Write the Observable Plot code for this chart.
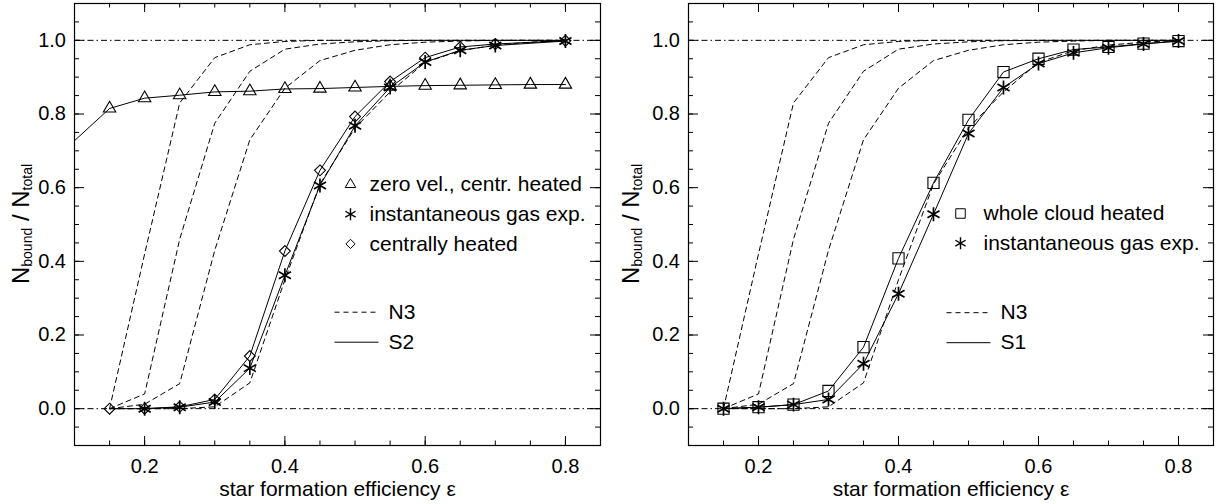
<!DOCTYPE html>
<html><head><meta charset="utf-8">
<script src="https://cdn.jsdelivr.net/npm/d3@7"></script>
<script src="https://cdn.jsdelivr.net/npm/@observablehq/plot@0.6"></script>
<style>
body{margin:0;background:#fff;}
#wrap{position:relative;width:1220px;height:504px;overflow:hidden;}
#wrap svg{position:absolute;top:0;}
</style></head><body><div id="wrap"></div>
<script>
// ---------- data ----------
const xTicks = [0.2, 0.4, 0.6, 0.8];
const yTicks = [0.0, 0.2, 0.4, 0.6, 0.8, 1.0];
const xMinor = [0.15, 0.2, 0.25, 0.3, 0.35, 0.4, 0.45, 0.5, 0.55, 0.6, 0.65, 0.7, 0.75, 0.8];
const yMinor = [-0.05, 0.0, 0.05, 0.1, 0.15, 0.2, 0.25, 0.3, 0.35, 0.4, 0.45, 0.5, 0.55, 0.6, 0.65, 0.7, 0.75, 0.8, 0.85, 0.9, 0.95, 1.0, 1.05];
const refLines = [0, 1];

// N3 reference curves (dashed), same in both panels
const epsN3 = [0.15, 0.2, 0.25, 0.3, 0.35, 0.4, 0.45, 0.5, 0.55, 0.6, 0.65, 0.7, 0.75, 0.8];
const n3a = [0.0, 0.42, 0.83, 0.953, 0.988, 0.997, 1.0, 1.0, 1.0, 1.0, 1.0, 1.0, 1.0, 1.0];
const n3b = [0.0, 0.04, 0.46, 0.775, 0.916, 0.976, 0.99, 0.996, 0.999, 1.0, 1.0, 1.0, 1.0, 1.0];
const n3c = [0.0, 0.012, 0.068, 0.43, 0.73, 0.87, 0.945, 0.973, 0.988, 0.995, 0.998, 1.0, 1.0, 1.0];
const n3d = [0.0, 0.0, 0.0, 0.005, 0.07, 0.35, 0.61, 0.762, 0.86, 0.94, 0.972, 0.987, 0.995, 1.0];

// left panel (S2)
const epsZeroVel = [0.05, 0.15, 0.2, 0.25, 0.3, 0.35, 0.4, 0.45, 0.5, 0.55, 0.6, 0.65, 0.7, 0.75, 0.8];
const zeroVel = [0.64, 0.815, 0.843, 0.851, 0.86, 0.862, 0.868, 0.869, 0.872, 0.875, 0.877, 0.878, 0.879, 0.88, 0.88];
const epsInstS2 = [0.2, 0.25, 0.3, 0.35, 0.4, 0.45, 0.5, 0.55, 0.6, 0.65, 0.7, 0.8];
const instS2 = [0.0, 0.004, 0.018, 0.11, 0.362, 0.606, 0.768, 0.872, 0.941, 0.973, 0.986, 0.998];
const epsCentral = [0.15, 0.2, 0.25, 0.3, 0.35, 0.4, 0.45, 0.5, 0.55, 0.6, 0.65, 0.7, 0.8];
const central = [0.0, 0.0, 0.005, 0.025, 0.143, 0.428, 0.647, 0.793, 0.888, 0.953, 0.982, 0.99, 0.999];

// right panel (S1)
const epsS1 = [0.15, 0.2, 0.25, 0.3, 0.35, 0.4, 0.45, 0.5, 0.55, 0.6, 0.65, 0.7, 0.75, 0.8];
const wholeCloud = [0.0, 0.004, 0.011, 0.048, 0.167, 0.408, 0.613, 0.784, 0.914, 0.95, 0.975, 0.982, 0.991, 0.998];
const instS1 = [0.0, 0.004, 0.011, 0.025, 0.122, 0.312, 0.528, 0.747, 0.872, 0.937, 0.966, 0.98, 0.99, 0.998];

// ---------- helpers ----------
const zip = (xs, ys, name) => xs.map((x, i) => ({x, y: ys[i], name}));
const n3Rows = [
  ...zip(epsN3, n3a, "a"), ...zip(epsN3, n3b, "b"),
  ...zip(epsN3, n3c, "c"), ...zip(epsN3, n3d, "d")
];
const FONT = "'Liberation Sans', Arial, Helvetica, sans-serif";
const W = 610, H = 504, MT = 3, MB = 59;
const lineSym = (half) => ({draw(ctx) { ctx.moveTo(-half, 0); ctx.lineTo(half, 0); }});
const symSize = {triangle: 4.6, asterisk: 6.6, diamond2: 4.9, square: 6.3};

function panel({mL, mR, series, lineLabel, leg}) {
  const fw = W - mL - mR, fh = H - MT - MB;
  const marks = [
    Plot.ruleY(refLines, {y: d => d, stroke: "black", strokeWidth: 1, strokeDasharray: "6,3,1.5,3"}),
    Plot.line(n3Rows, {x: "x", y: "y", z: "name", stroke: "black", strokeWidth: 1, strokeDasharray: "5,4"})
  ];
  for (const s of series) {
    const rows = zip(s.xs, s.ys, s.name);
    marks.push(Plot.line(rows, {x: "x", y: "y", stroke: "black", strokeWidth: 1, clip: true}));
    marks.push(Plot.dot(rows, {x: "x", y: "y", symbol: s.symbol, r: symSize[s.symbol], stroke: "black", fill: "none", strokeWidth: s.symbol === "asterisk" ? 1.7 : 1.1, clip: true}));
  }
  // frame + ticks (inward, on all sides)
  marks.push(
    Plot.frame({stroke: "black", strokeWidth: 1.2}),
    Plot.tickX(xMinor, {x: d => d, stroke: "black", insetTop: fh - 4.5}),
    Plot.tickX(xTicks, {x: d => d, stroke: "black", insetTop: fh - 9}),
    Plot.tickX(xMinor, {x: d => d, stroke: "black", insetBottom: fh - 4.5}),
    Plot.tickX(xTicks, {x: d => d, stroke: "black", insetBottom: fh - 9}),
    Plot.tickY(yMinor, {y: d => d, stroke: "black", insetRight: fw - 5}),
    Plot.tickY(yTicks, {y: d => d, stroke: "black", insetRight: fw - 10}),
    Plot.tickY(yMinor, {y: d => d, stroke: "black", insetLeft: fw - 5}),
    Plot.tickY(yTicks, {y: d => d, stroke: "black", insetLeft: fw - 10}),
    Plot.axisX(xTicks, {tickSize: 0, tickPadding: 13, tickFormat: ".1f", label: null, fontSize: 20}),
    Plot.axisY(yTicks, {tickSize: 0, tickPadding: 8.5, tickFormat: ".1f", label: null, fontSize: 20}),
    Plot.text(["star formation efficiency ε"], {frameAnchor: "bottom", dy: 44, text: d => d, fontSize: 21, lineAnchor: "middle"})
  );
  // legend
  leg.items.forEach((it, i) => {
    const dy = leg.y0 + i * 29.7;
    marks.push(Plot.dot([0], {frameAnchor: "top-left", dx: leg.symX, dy, symbol: it.symbol, r: symSize[it.symbol] * 0.85, stroke: "black", fill: "none", strokeWidth: it.symbol === "asterisk" ? 1.4 : 1}));
    marks.push(Plot.text([it.label], {frameAnchor: "top-left", dx: leg.textX, dy, text: d => d, textAnchor: "start", lineAnchor: "middle", fontSize: 21}));
  });
  [["N3", "5,4"], [lineLabel, null]].forEach(([lab, dash], i) => {
    const dy = leg.lineY0 + i * 30;
    marks.push(Plot.dot([0], {frameAnchor: "top-left", dx: leg.lineX, dy, symbol: lineSym(22), stroke: "black", fill: "none", strokeWidth: 1, strokeDasharray: dash}));
    marks.push(Plot.text([lab], {frameAnchor: "top-left", dx: leg.lineTextX, dy, text: d => d, textAnchor: "start", lineAnchor: "middle", fontSize: 21}));
  });

  const svg = Plot.plot({
    width: W, height: H,
    marginTop: MT, marginBottom: MB, marginLeft: mL, marginRight: mR,
    x: {domain: [0.1, 0.85]},
    y: {domain: [-0.1, 1.1]},
    style: {fontFamily: FONT, fontSize: "20px", color: "black", background: "white", overflow: "visible"},
    marks
  });
  // y label with subscripts
  const t = d3.select(svg).append("text")
    .attr("transform", `translate(29,${MT + fh / 2}) rotate(-90)`)
    .attr("text-anchor", "middle")
    .attr("fill", "black")
    .style("font-family", FONT).style("font-size", "24px");
  t.append("tspan").text("N");
  t.append("tspan").attr("font-size", "14px").attr("dy", 3).text("bound");
  t.append("tspan").attr("dy", -3).text(" / N");
  t.append("tspan").attr("font-size", "14px").attr("dy", 3).text("total");
  return svg;
}

const left = panel({
  mL: 74, mR: 10,
  series: [
    {xs: epsZeroVel, ys: zeroVel, symbol: "triangle", name: "zero"},
    {xs: epsInstS2, ys: instS2, symbol: "asterisk", name: "inst"},
    {xs: epsCentral, ys: central, symbol: "diamond2", name: "central"}
  ],
  lineLabel: "S2",
  leg: {symX: 276, textX: 295, y0: 181, lineX: 282, lineTextX: 314, lineY0: 308.7,
    items: [
      {symbol: "triangle", label: "zero vel., centr. heated"},
      {symbol: "asterisk", label: "instantaneous gas exp."},
      {symbol: "diamond2", label: "centrally heated"}
    ]}
});
const right = panel({
  mL: 78, mR: 7,
  series: [
    {xs: epsS1, ys: wholeCloud, symbol: "square", name: "whole"},
    {xs: epsS1, ys: instS1, symbol: "asterisk", name: "inst"}
  ],
  lineLabel: "S1",
  leg: {symX: 272, textX: 295, y0: 210, lineX: 280, lineTextX: 312, lineY0: 309.2,
    items: [
      {symbol: "square", label: "whole cloud heated"},
      {symbol: "asterisk", label: "instantaneous gas exp."}
    ]}
});
left.style.left = "0px";
right.style.left = "610px";
document.getElementById("wrap").append(left, right);
</script>
</body></html>
